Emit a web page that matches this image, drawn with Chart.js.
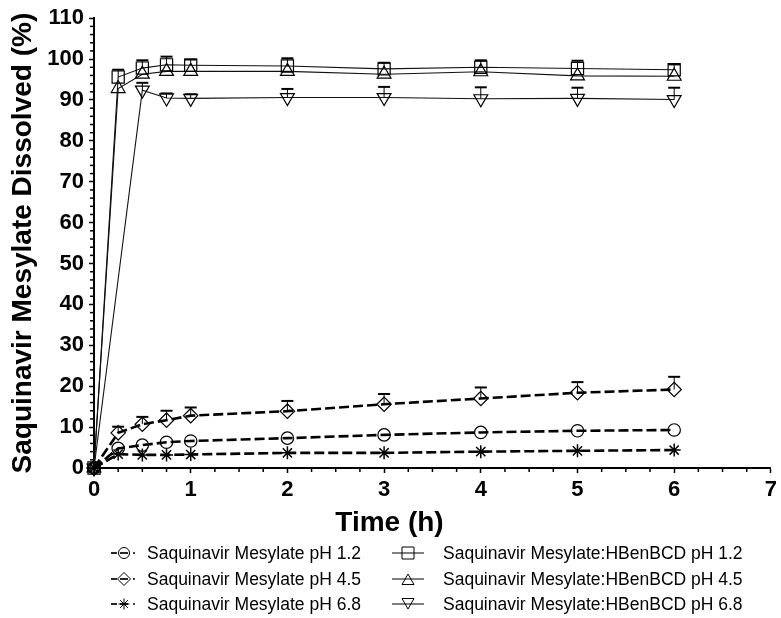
<!DOCTYPE html>
<html><head><meta charset="utf-8">
<script src="https://cdn.jsdelivr.net/npm/chart.js@4/dist/chart.umd.min.js"></script>
<style>
html,body{margin:0;padding:0;background:#fff}
#wrap{width:781px;height:618px;position:relative;overflow:hidden}
#legend{position:absolute;left:0;top:0;width:781px;height:618px;pointer-events:none}
#legend .lt{position:absolute;white-space:nowrap;font:17.5px 'Liberation Sans',Arial,sans-serif;line-height:20px;color:#000}
#legend canvas{position:absolute;display:block}
</style>
</head><body><div id="wrap"><canvas id="c" width="781" height="618"></canvas><div id="legend"></div></div>
<script>
// ---- data ----
const timesH = [0, 0.25, 0.5, 0.75, 1, 2, 3, 4, 5, 6];
const seriesNames = [
  'Saquinavir Mesylate pH 1.2',
  'Saquinavir Mesylate pH 4.5',
  'Saquinavir Mesylate pH 6.8',
  'Saquinavir Mesylate:HBenBCD pH 1.2',
  'Saquinavir Mesylate:HBenBCD pH 4.5',
  'Saquinavir Mesylate:HBenBCD pH 6.8'
];
const sm12 = [0, 4.8, 5.6, 6.3, 6.6, 7.3, 8.1, 8.7, 9.1, 9.3];
const sm45 = [0, 8.6, 10.7, 11.7, 12.8, 13.9, 15.6, 17.0, 18.4, 19.2];
const sm45Err = [0, 1.5, 1.8, 2.3, 2.0, 2.5, 2.5, 2.7, 2.6, 3.1];
const sm68 = [0, 3.4, 3.2, 3.2, 3.3, 3.7, 3.7, 4.0, 4.2, 4.4];
const hb12 = [0, 95.6, 97.8, 98.6, 98.5, 98.3, 97.6, 98.0, 97.7, 97.4];
const hb12Err = [0, 1.8, 1.9, 2.0, 1.4, 1.9, 1.5, 1.7, 1.9, 1.3];
const hb45 = [0, 92.8, 96.3, 97.0, 97.0, 97.0, 96.3, 96.9, 95.9, 95.8];
const hb68 = [0, null, 92.4, 90.5, 90.4, 90.6, 90.6, 90.3, 90.4, 90.1];
const hb68Err = [0, null, 1.8, 1.1, 1.0, 2.1, 2.6, 2.8, 2.6, 2.9];
const xTickValues = [0, 1, 2, 3, 4, 5, 6, 7];
const yTickValues = [0, 10, 20, 30, 40, 50, 60, 70, 80, 90, 100, 110];
const xTitle = 'Time (h)';
const yTitle = 'Saquinavir Mesylate Dissolved (%)';

// ---- helpers ----
const toXY = arr => timesH.map((t, i) => ({x: t, y: arr[i]}));
const INK = '#000';

function drawMarker(ctx, style, cx, cy, r) {
  ctx.beginPath();
  if (style === 'circle') { ctx.arc(cx, cy, r, 0, Math.PI * 2); }
  else if (style === 'rect') { ctx.rect(cx - r, cy - r, 2 * r, 2 * r); }
  else if (style === 'rectRot') { ctx.moveTo(cx, cy - r - 1); ctx.lineTo(cx + r + 1, cy); ctx.lineTo(cx, cy + r + 1); ctx.lineTo(cx - r - 1, cy); ctx.closePath(); }
  else if (style === 'triUp') { ctx.moveTo(cx, cy - r); ctx.lineTo(cx + r, cy + r * 0.75); ctx.lineTo(cx - r, cy + r * 0.75); ctx.closePath(); }
  else if (style === 'triDown') { ctx.moveTo(cx, cy + r); ctx.lineTo(cx + r, cy - r * 0.75); ctx.lineTo(cx - r, cy - r * 0.75); ctx.closePath(); }
  else if (style === 'star') {
    for (let k = 0; k < 4; k++) { const a = k * Math.PI / 4; ctx.moveTo(cx - Math.cos(a) * r, cy - Math.sin(a) * r); ctx.lineTo(cx + Math.cos(a) * r, cy + Math.sin(a) * r); }
  }
  ctx.stroke();
}

function legendIcon(style, dashed) {
  const W = 40, H = 20, c = 20, cy = 10;
  const cv = document.createElement('canvas');
  cv.width = W; cv.height = H;
  const g = cv.getContext('2d');
  g.strokeStyle = INK;
  if (dashed) {
    g.lineWidth = 1.7;
    g.beginPath(); g.moveTo(c - 13, cy); g.lineTo(c - 7, cy); g.stroke();
    g.beginPath(); g.moveTo(c - 4, cy); g.lineTo(c + 4, cy); g.stroke();
    g.beginPath(); g.moveTo(c + 9, cy); g.lineTo(c + 11, cy); g.stroke();
    g.lineWidth = 1;
    drawMarker(g, style, c, cy, 5.5);
  } else {
    g.lineWidth = 1;
    g.beginPath(); g.moveTo(c - 16, cy); g.lineTo(c + 16, cy); g.stroke();
    drawMarker(g, style, c, cy + (style === 'triUp' ? 1 : style === 'triDown' ? -1 : 0), 6);
  }
  return cv;
}

const dashedLine = {borderColor: INK, borderWidth: 2.6, borderDash: [10, 4]};
const solidLine = {borderColor: '#111', borderWidth: 1.1, borderDash: []};
const pointCommon = {pointBackgroundColor: 'rgba(0,0,0,0)', pointBorderColor: INK, pointBorderWidth: 1.2};

const datasets = [
  Object.assign({label: seriesNames[0], data: toXY(sm12), pointStyle: 'circle', pointRadius: 6.2, icon: legendIcon('circle', true)}, dashedLine, pointCommon),
  Object.assign({label: seriesNames[1], data: toXY(sm45), errUp: sm45Err, pointStyle: 'rectRot', pointRadius: 7.2, icon: legendIcon('rectRot', true)}, dashedLine, pointCommon),
  Object.assign({label: seriesNames[2], data: toXY(sm68), pointStyle: 'star', pointRadius: 6.5, icon: legendIcon('star', true)}, dashedLine, pointCommon, {pointBorderWidth: 1.5}),
  Object.assign({label: seriesNames[3], data: toXY(hb12), errUp: hb12Err, pointStyle: 'rect', pointRadius: 8.6, icon: legendIcon('rect', false)}, solidLine, pointCommon),
  Object.assign({label: seriesNames[4], data: toXY(hb45), pointStyle: 'triangle', pointRadius: 8, icon: legendIcon('triUp', false)}, solidLine, pointCommon),
  Object.assign({label: seriesNames[5], data: toXY(hb68), errUp: hb68Err, pointStyle: 'triangle', pointRotation: 180, pointRadius: 8, icon: legendIcon('triDown', false)}, solidLine, pointCommon)
];
datasets.forEach(d => { d.clip = false; d.tension = 0; d.spanGaps = true; d.fill = false; });

const errorBars = {
  id: 'errorBars',
  afterDatasetsDraw(chart) {
    const ctx = chart.ctx, ys = chart.scales.y;
    chart.data.datasets.forEach((ds, di) => {
      if (!ds.errUp) return;
      const meta = chart.getDatasetMeta(di);
      meta.data.forEach((pt, i) => {
        const e = ds.errUp[i], raw = ds.data[i];
        if (e == null || e <= 0 || raw.y == null) return;
        const top = ys.getPixelForValue(raw.y + e);
        ctx.save(); ctx.strokeStyle = INK; ctx.setLineDash([]);
        ctx.lineWidth = 1; ctx.beginPath(); ctx.moveTo(pt.x, pt.y); ctx.lineTo(pt.x, top); ctx.stroke();
        ctx.lineWidth = 2; ctx.beginPath(); ctx.moveTo(pt.x - 6, top); ctx.lineTo(pt.x + 6, top); ctx.stroke();
        ctx.restore();
      });
    });
  }
};

const minorTicks = {
  id: 'minorTicks',
  afterDraw(chart) {
    const {ctx, scales: {x, y}} = chart;
    ctx.save(); ctx.strokeStyle = INK; ctx.lineWidth = 1.5;
    for (let k = 0; k <= 28; k++) {
      if (k % 4 === 0) continue;
      const px = x.getPixelForValue(k * 0.25);
      ctx.beginPath(); ctx.moveTo(px, x.top); ctx.lineTo(px, x.top + 4); ctx.stroke();
    }
    for (let k = 0; k <= 55; k++) {
      if (k % 5 === 0) continue;
      const py = y.getPixelForValue(k * 2);
      ctx.beginPath(); ctx.moveTo(y.right, py); ctx.lineTo(y.right - 4, py); ctx.stroke();
    }
    ctx.restore();
  }
};

// HTML legend built from the chart's datasets (2 columns x 3 rows)
const legendLayout = {iconCenterX: [124, 408], textX: [147, 443], rowY: [553, 578.5, 604]};
const htmlLegend = {
  id: 'htmlLegend',
  afterUpdate(chart) {
    const box = document.getElementById('legend');
    box.innerHTML = '';
    chart.data.datasets.forEach((ds, i) => {
      const col = i < 3 ? 0 : 1, row = i % 3;
      const cy = legendLayout.rowY[row];
      const icon = ds.icon;
      icon.style.left = (legendLayout.iconCenterX[col] - icon.width / 2) + 'px';
      icon.style.top = (cy - icon.height / 2) + 'px';
      box.appendChild(icon);
      const t = document.createElement('span');
      t.className = 'lt';
      t.textContent = ds.label;
      t.style.left = legendLayout.textX[col] + 'px';
      t.style.top = (cy - 10) + 'px';
      box.appendChild(t);
    });
  }
};

const tickFont = {family: "'Liberation Sans', Arial, sans-serif", size: 22, weight: 'bold'};
const titleFont = {family: "'Liberation Sans', Arial, sans-serif", size: 28, weight: 'bold'};

new Chart(document.getElementById('c'), {
  type: 'line',
  data: {datasets},
  plugins: [errorBars, minorTicks, htmlLegend],
  options: {
    responsive: false,
    devicePixelRatio: 1,
    animation: false,
    events: [],
    layout: {padding: {top: 5, right: 2, left: 0, bottom: 81}},
    scales: {
      x: {
        type: 'linear', min: 0, max: 7,
        afterBuildTicks: s => { s.ticks = xTickValues.map(v => ({value: v})); },
        afterFit: s => { s.height = 36; },
        ticks: {color: INK, font: tickFont, padding: 4, maxRotation: 0, autoSkip: false},
        grid: {drawOnChartArea: false, drawTicks: true, tickLength: 5, tickColor: INK, tickWidth: 1.5},
        border: {display: true, color: INK, width: 2}
      },
      y: {
        type: 'linear', min: 0, max: 110,
        afterBuildTicks: s => { s.ticks = yTickValues.map(v => ({value: v})); },
        afterFit: s => { s.width = 94; },
        ticks: {color: INK, font: tickFont, padding: 5, autoSkip: false},
        grid: {drawOnChartArea: false, drawTicks: true, tickLength: 5, tickColor: INK, tickWidth: 1.5},
        border: {display: true, color: INK, width: 2},
        title: {display: true, text: yTitle, color: INK, font: titleFont, padding: {top: 6, bottom: 0}}
      }
    },
    plugins: {
      tooltip: {enabled: false},
      legend: {display: false},
      title: {
        display: true, position: 'bottom', text: xTitle, color: INK,
        font: Object.assign({lineHeight: 1}, titleFont), padding: {top: 5, bottom: 0}
      }
    }
  }
});
</script>
</body></html>
